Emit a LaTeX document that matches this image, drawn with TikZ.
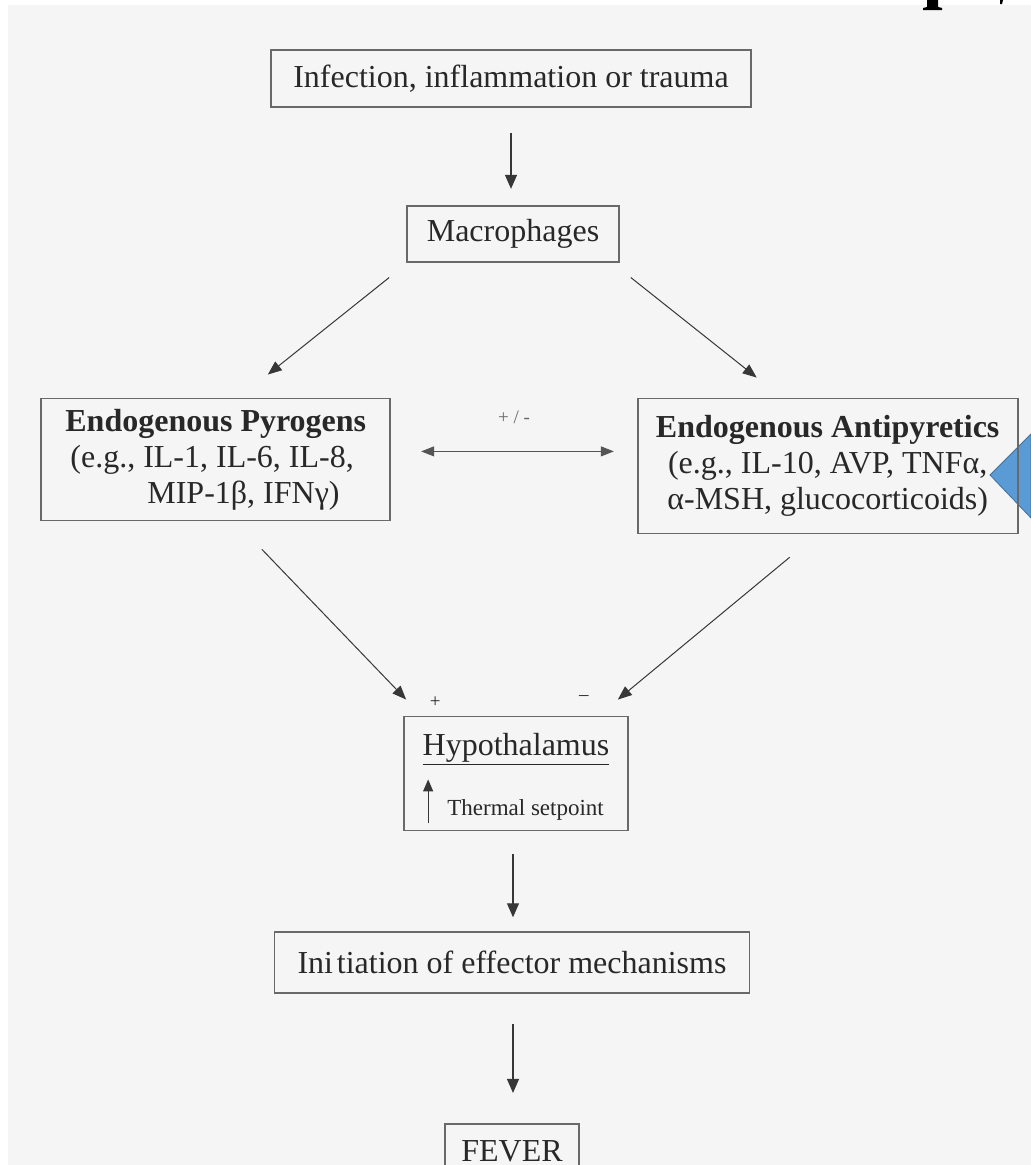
\documentclass[tikz,border=0pt]{standalone}
\usepackage{fontspec}
\setmainfont{Liberation Serif}
\usetikzlibrary{arrows.meta, positioning}
\definecolor{bggray}{RGB}{245,245,245}
\definecolor{boxgray}{RGB}{105,105,105}
\definecolor{inkgray}{RGB}{40,40,40}
\definecolor{arrowgray}{RGB}{55,55,55}
\definecolor{calloutblue}{RGB}{91,155,213}
\definecolor{calloutedge}{RGB}{65,113,156}
\newcommand{\mainfs}{\fontsize{32pt}{36pt}\selectfont}
\newcommand{\smallfs}{\fontsize{23pt}{26pt}\selectfont}
\newcommand{\tinyfs}{\fontsize{19pt}{22pt}\selectfont}
\tikzset{
  flowbox/.style={
    rectangle, draw=boxgray, line width=1.7pt, text=inkgray,
    font=\mainfs, inner sep=0pt, text centered
  },
  flowarrow/.style={-{Triangle[length=14pt,width=12pt]}, line width=1.2pt, color=arrowgray},
  diagarrow/.style={-{Triangle[length=14pt,width=11pt]}, line width=1pt, color=arrowgray},
  dblarrow/.style={{Triangle[length=13pt,width=10pt]}-{Triangle[length=13pt,width=10pt]},
    line width=1pt, color=arrowgray!85},
  signlabel/.style={font=\tinyfs, text=inkgray, inner sep=0pt}
}

\begin{document}
\begin{tikzpicture}
  \useasboundingbox (0,0) rectangle (1031pt,-1165pt);
  \fill[white] (0,0) rectangle (1031pt,-1165pt);
  \fill[bggray] (8pt,-5pt) rectangle (1031pt,-1165pt);

  % bits of the slide around the figure
  \fill[black] (927pt,0pt) -- (938pt,0pt) -- (938pt,-7pt) -- (942pt,-8pt) -- (942pt,-10pt)
    -- (923pt,-10pt) -- (923pt,-8pt) -- (927pt,-7pt) -- cycle;
  \fill[black] (1000pt,0pt) -- (1003pt,0pt) -- (1002pt,-4pt) -- (1000pt,-4pt) -- cycle;
  \filldraw[fill=calloutblue, draw=calloutedge, line width=0.8pt]
    (990pt,-475pt) -- (1031pt,-434pt) -- (1031pt,-518pt) -- cycle;

  \node[flowbox, minimum width=480pt, minimum height=57pt] (infect) at (511pt,-78.5pt)
    {Infection, inflammation or trauma};
  \node[flowbox, minimum width=212pt, minimum height=56pt, below=97pt of infect, xshift=2pt] (macro)
    {Macrophages};

  \node[flowbox, minimum width=349pt, minimum height=122pt, align=left,
        below left=135pt and 15pt of macro] (pyro)
    {\textbf{Endogenous Pyrogens}\\\hspace*{5pt}(e.g., IL-1, IL-6, IL-8,\\\hspace*{82pt}MIP-1β, IFNγ)};
  \node[flowbox, minimum width=380pt, minimum height=135pt, align=center,
        below right=135pt and 17pt of macro] (anti)
    {\textbf{Endogenous Antipyretics}\\(e.g., IL-10, AVP, TNFα,\\α-MSH, glucocorticoids)};

  \node[flowbox, minimum width=224pt, text height=39pt, text depth=75pt,
        below=453pt of macro, xshift=3pt] (hypo) {\underline{Hypothalamus}};
  \node[font=\smallfs, text=inkgray, anchor=base west, inner sep=0pt] (setpt)
    at ([xshift=44pt,yshift=-60pt]hypo.base west) {Thermal setpoint};
  \coordinate (upfoot) at ([xshift=25pt,yshift=-68pt]hypo.base west);
  \coordinate (uphead) at ([xshift=25pt,yshift=-24pt]hypo.base west);

  \node[flowbox, minimum width=475pt, minimum height=61pt, below=100pt of hypo, xshift=-4pt] (init)
    {Ini\hspace{0.12em}tiation of effector mechanisms};
  \node[flowbox, minimum width=134pt, text height=38pt, text depth=14pt, below=129pt of init] (fever)
    {FEVER};

  \node[signlabel] (plus) at ([xshift=32pt,yshift=13pt]hypo.north west) {+};
  \node[signlabel] (minus) at ([xshift=-45pt,yshift=18pt]hypo.north east) {–};

  \draw[flowarrow, shorten <=25pt, shorten >=16pt] (infect) -- (infect |- macro.north);
  \draw[diagarrow] ([xshift=-17pt,yshift=-15pt]macro.south west)
    -- ([xshift=52pt,yshift=23pt]pyro.north);
  \draw[diagarrow] ([xshift=11pt,yshift=-15pt]macro.south east)
    -- ([xshift=-71pt,yshift=20pt]anti.north);
  \draw[dblarrow, shorten <=30pt, shorten >=23pt] ([yshift=8pt]pyro.east)
    -- ([yshift=8pt]pyro.east -| anti.west)
    node[midway, above=24pt, font=\tinyfs, text=inkgray!70] (pm) {+ / -};
  \draw[diagarrow] ([xshift=46pt,yshift=-28pt]pyro.south)
    -- ([xshift=3pt,yshift=16pt]hypo.north west);
  \draw[diagarrow] ([xshift=-38pt,yshift=-23pt]anti.south)
    -- ([xshift=-11pt,yshift=16pt]hypo.north east);
  \draw[flowarrow, -{Triangle[length=12pt,width=10pt]}] (upfoot) -- (uphead);
  \draw[flowarrow, shorten <=23pt, shorten >=14pt] ([xshift=-3pt]hypo.south)
    -- ([xshift=-3pt]hypo.south |- init.north);
  \draw[flowarrow, shorten <=30pt, shorten >=30pt] ([xshift=1pt]init.south)
    -- ([xshift=1pt]init.south |- fever.north);
\end{tikzpicture}
\end{document}
